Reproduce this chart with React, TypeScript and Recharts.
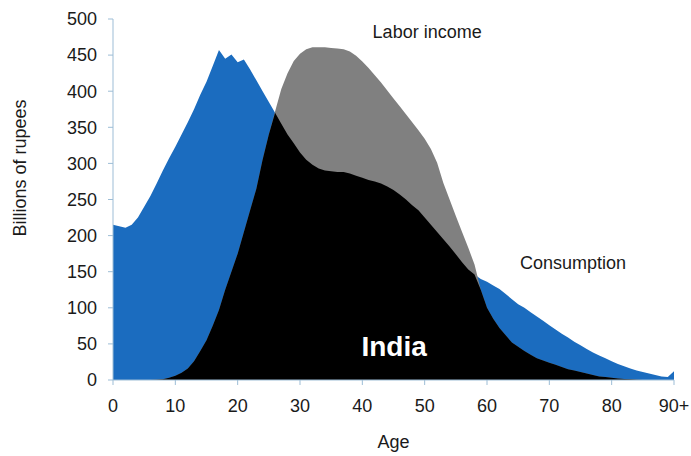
import React from 'react';
import { AreaChart, Area, XAxis, YAxis, ReferenceDot } from 'recharts';

// ages 0..90 (90 stands for 90+)
const ages = [
  0, 1, 2, 3, 4, 5, 6, 7, 8, 9,
  10, 11, 12, 13, 14, 15, 16, 17, 18, 19,
  20, 21, 22, 23, 24, 25, 26, 27, 28, 29,
  30, 31, 32, 33, 34, 35, 36, 37, 38, 39,
  40, 41, 42, 43, 44, 45, 46, 47, 48, 49,
  50, 51, 52, 53, 54, 55, 56, 57, 58, 59,
  60, 61, 62, 63, 64, 65, 66, 67, 68, 69,
  70, 71, 72, 73, 74, 75, 76, 77, 78, 79,
  80, 81, 82, 83, 84, 85, 86, 87, 88, 89,
  90,
];

// billions of rupees
const consumption = [
  215, 213, 211, 215, 225, 240, 255, 272, 290, 307,
  323, 340, 357, 375, 395, 413, 435, 457, 445, 451,
  440, 444, 430, 415, 400, 385, 370, 355, 340, 328,
  315, 305, 298, 293, 290, 289, 288, 288, 286, 283,
  280, 277, 275, 272, 268, 263, 257, 250, 242, 235,
  225, 215, 205, 195, 185, 174, 163, 153, 146, 140,
  136, 131, 126, 119, 112, 105, 100, 94, 88, 82,
  76, 70, 64, 59, 53, 48, 43, 38, 34, 30,
  26, 22, 19, 16, 13, 11, 9, 7, 5, 4,
  12,
];

const laborIncome = [
  0, 0, 0, 0, 0, 0, 0, 0.5, 1, 3,
  6, 10, 16, 26, 40, 55, 75, 97, 125, 150,
  175, 205, 235, 265, 305, 340, 372, 403, 425, 442,
  452, 458, 461, 461, 461, 460, 459, 458, 455, 449,
  441, 432, 422, 412, 401, 390, 379, 368, 357, 346,
  334, 320, 301, 273, 250, 227, 205, 183, 160, 125,
  100, 85, 72, 62, 52, 46, 40, 35, 30, 27,
  24, 21, 18, 15, 13, 11, 9, 7, 5, 4,
  3, 2, 1.5, 1, 0.5, 0, 0, 0, 0, 0,
  0,
];

const xTicks = [0, 10, 20, 30, 40, 50, 60, 70, 80, 90];
const yTicks = [0, 50, 100, 150, 200, 250, 300, 350, 400, 450, 500];

const data = ages.map((age, i) => ({
  age,
  consumption: consumption[i],
  labor: laborIncome[i],
  overlap: Math.min(consumption[i], laborIncome[i]),
}));

const axisColor = '#9dbdd6';
const font = '"Liberation Sans", Arial, sans-serif';

export default function App() {
  return (
    <div style={{ position: 'absolute', left: 0, top: 0, width: 691, height: 456, background: '#fff', fontFamily: font }}>
      <AreaChart
        width={691}
        height={456}
        data={data}
        margin={{ top: 19, right: 17, left: 0, bottom: 46 }}
        style={{ fontFamily: font }}
      >
        <XAxis
          dataKey="age"
          type="number"
          domain={[0, 90]}
          ticks={xTicks}
          tickFormatter={(v: number) => (v === 90 ? '90+' : String(v))}
          stroke={axisColor}
          tickSize={5}
          tickMargin={14}
          height={30}
          tick={{ fill: '#1a1a1a', fontSize: 18 }}
          label={{ value: 'Age', position: 'bottom', offset: 25, fill: '#1a1a1a', fontSize: 18 }}
        />
        <YAxis
          type="number"
          domain={[0, 500]}
          ticks={yTicks}
          stroke={axisColor}
          tickSize={5}
          tickMargin={11}
          width={113}
          tick={{ fill: '#1a1a1a', fontSize: 18 }}
        />
        <Area type="linear" dataKey="consumption" stroke="none" fill="#1b6cbf" fillOpacity={1} isAnimationActive={false} />
        <Area type="linear" dataKey="labor" stroke="none" fill="#808080" fillOpacity={1} isAnimationActive={false} />
        <Area type="linear" dataKey="overlap" stroke="none" fill="#000000" fillOpacity={1} isAnimationActive={false} />
        <ReferenceDot x={50.4} y={483} r={0} label={{ value: 'Labor income', position: 'center', fill: '#1a1a1a', fontSize: 18 }} />
        <ReferenceDot x={73.8} y={162} r={0} label={{ value: 'Consumption', position: 'center', fill: '#1a1a1a', fontSize: 18 }} />
        <ReferenceDot x={45.1} y={47} r={0} label={{ value: 'India', position: 'center', fill: '#ffffff', fontSize: 28, fontWeight: 'bold' }} />
      </AreaChart>
      <div
        style={{
          position: 'absolute',
          left: 20,
          top: 168,
          transform: 'translate(-50%, -50%) rotate(-90deg)',
          whiteSpace: 'nowrap',
          fontSize: 18,
          color: '#1a1a1a',
        }}
      >
        Billions of rupees
      </div>
    </div>
  );
}
